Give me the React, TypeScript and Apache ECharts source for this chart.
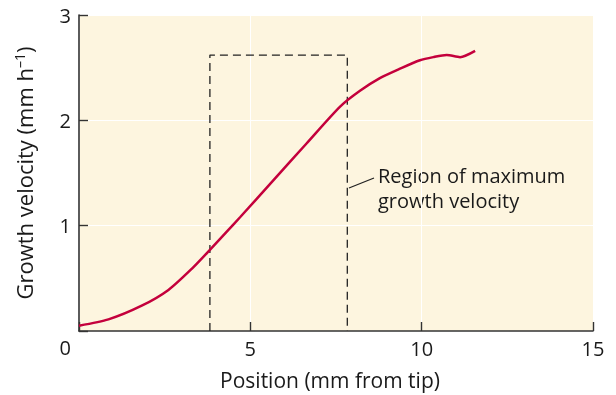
import React, { useEffect, useRef } from "react";
import * as echarts from "echarts";

const positions = [0, 0.86, 1.83, 2.61, 3.29, 3.82, 4.36, 4.7, 5.67, 6.64, 7.62, 8.2, 8.78, 9.37, 9.95, 10.34, 10.73, 11.12, 11.56];
const velocities = [0.05, 0.11, 0.24, 0.39, 0.59, 0.77, 0.96, 1.08, 1.43, 1.78, 2.13, 2.28, 2.4, 2.49, 2.57, 2.6, 2.62, 2.6, 2.66];
const regionX = [3.82, 3.82, 7.83, 7.83];
const regionY = [0, 2.62, 2.62, 0];
const xTicks = [0, 5, 10, 15];
const yTicks = [0, 1, 2, 3];
const annotation = ["Region of maximum", "growth velocity"];

const FONT = "Open Sans";

export default function App() {
  const ref = useRef<HTMLDivElement>(null);
  useEffect(() => {
    if (!ref.current) return;
    const chart = echarts.init(ref.current, null, { renderer: "svg" });
    chart.setOption({
      animation: false,
      textStyle: { fontFamily: FONT },
      grid: {
        left: 79,
        right: 23,
        top: 15,
        bottom: 64,
        show: true,
        backgroundColor: "#fdf5df",
        borderWidth: 0,
      },
      xAxis: {
        type: "value",
        min: xTicks[0],
        max: xTicks[xTicks.length - 1],
        interval: 5,
        name: "Position (mm from tip)",
        nameLocation: "middle",
        nameGap: 38,
        nameTextStyle: { fontSize: 21, color: "#1a1a1a", fontFamily: FONT, padding: [0, 12, 0, 0] },
        axisLine: { lineStyle: { color: "#333", width: 1.6 } },
        axisTick: { inside: true, length: 9, lineStyle: { color: "#333", width: 1.4 } },
        axisLabel: {
          fontSize: 20,
          color: "#1a1a1a",
          margin: 7,
          fontFamily: FONT,
          formatter: (v: number) => (v === 0 ? "" : String(v)),
        },
        splitLine: { show: true, lineStyle: { color: "#ffffff", width: 1 } },
      },
      yAxis: {
        type: "value",
        min: yTicks[0],
        max: yTicks[yTicks.length - 1],
        interval: 1,
        name: "Growth velocity (mm h{sup|–1})",
        nameLocation: "middle",
        nameGap: 44,
        nameRotate: 90,
        nameTextStyle: {
          fontSize: 22,
          color: "#1a1a1a",
          fontFamily: FONT,
          rich: {
            sup: { fontSize: 14, verticalAlign: "top", color: "#1a1a1a", fontFamily: FONT, padding: [0, 0, 9, 0] },
          },
        },
        axisLine: { lineStyle: { color: "#333", width: 1.6 } },
        axisTick: { inside: true, length: 9, lineStyle: { color: "#333", width: 1.4 } },
        axisLabel: {
          fontSize: 20,
          color: "#1a1a1a",
          margin: 8,
          fontFamily: FONT,
          formatter: (v: number) => (v === 0 ? "{z|0}" : String(v)),
          rich: { z: { fontSize: 20, color: "#1a1a1a", fontFamily: FONT, padding: [32, 0, 0, 0] } },
        },
        splitLine: { show: true, lineStyle: { color: "#ffffff", width: 1 } },
      },
      series: [
        {
          type: "line",
          data: positions.map((x, i) => [x, velocities[i]]),
          smooth: 0.25,
          symbol: "none",
          lineStyle: { color: "#c4003c", width: 2.5 },
          z: 3,
        },
        {
          type: "line",
          data: regionX.map((x, i) => [x, regionY[i]]),
          symbol: "none",
          lineStyle: { color: "#222", width: 1.3, type: [8, 5] },
          z: 2,
        },
      ],
      graphic: [
        {
          type: "line",
          shape: { x1: 349, y1: 188, x2: 374, y2: 178 },
          style: { stroke: "#222", lineWidth: 1.2 },
        },
        ...annotation.map((line, i) => ({
          type: "text",
          x: 378,
          y: 175 + i * 25,
          style: {
            text: line,
            fontSize: 20,
            fill: "#1a1a1a",
            fontFamily: FONT,
            verticalAlign: "middle",
          },
        })),
      ],
    });
    return () => chart.dispose();
  }, []);
  return <div ref={ref} style={{ position: "fixed", left: 0, top: 0, width: 616, height: 395 }} />;
}
